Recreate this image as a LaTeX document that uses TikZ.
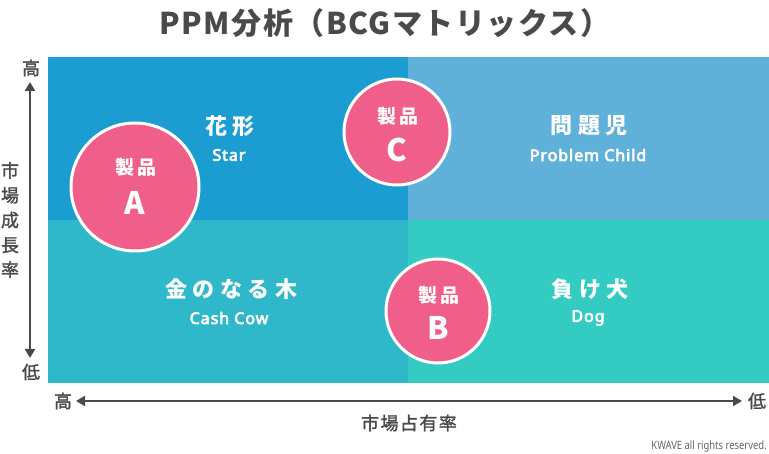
\documentclass[tikz,border=0pt]{standalone}
\usepackage{fontspec}
\setmainfont{Noto Sans CJK JP}
\newfontfamily\latf{Noto Sans}[FakeBold=4,LetterSpace=6]
\newfontfamily\axf{Noto Sans CJK JP}[FakeBold=1.5]
\newfontfamily\footf{Noto Sans}[FakeStretch=0.82]
\usetikzlibrary{arrows.meta}
\definecolor{qtl}{HTML}{1B9DD2}
\definecolor{qtr}{HTML}{5FB1D9}
\definecolor{qbl}{HTML}{2FB8C9}
\definecolor{qbr}{HTML}{34CBC3}
\definecolor{pinkc}{HTML}{EF5F8A}
\definecolor{darkg}{HTML}{4A4A4A}
\tikzset{
  quad/.style={inner sep=0pt, outer sep=0pt, draw=none, anchor=north west},
  qtitle/.style={text=white, font=\fontsize{22}{24}\selectfont\bfseries\addfontfeature{LetterSpace=25}, inner sep=0pt},
  qsub/.style={text=white, font=\fontsize{16}{18}\latf, inner sep=0pt},
  prod/.style={circle, fill=pinkc, draw=white, line width=3pt, inner sep=0pt},
  prodlbl/.style={text=white, font=\fontsize{19}{20}\selectfont\bfseries\addfontfeature{LetterSpace=18}, inner sep=0pt},
  prodletter/.style={text=white, font=\fontsize{31}{32}\selectfont\bfseries, inner sep=0pt},
  axlbl/.style={text=darkg, font=\fontsize{18}{20}\axf\addfontfeature{LetterSpace=8}, inner sep=0pt},
  axarrow/.style={draw=darkg, line width=2.4pt, {Triangle[width=10pt,length=9pt]}-{Triangle[width=10pt,length=9pt]}},
}
\begin{document}
\begin{tikzpicture}[x=1pt,y=-1pt]
\useasboundingbox (0,0) rectangle (769,454);
\fill[white] (0,0) rectangle (769,454);
% quadrants
\node[quad, fill=qtl, minimum width=360pt, minimum height=163pt] (qtl) at (48,57) {};
\node[quad, fill=qtr, minimum width=361pt, minimum height=163pt] (qtr) at (408,57) {};
\node[quad, fill=qbl, minimum width=360pt, minimum height=163pt] (qbl) at (48,220) {};
\node[quad, fill=qbr, minimum width=361pt, minimum height=163pt] (qbr) at (408,220) {};
% title
\node[text=darkg, font=\fontsize{30}{32}\selectfont\bfseries\addfontfeature{LetterSpace=5}, inner sep=0pt] (title) at (385,23) {PPM分析（BCGマトリックス）};
% quadrant labels
\node[qtitle] (t1) at (230,126) {花形};
\node[qsub] (s1) at (229,155) {Star};
\node[qtitle] (t2) at (589,126) {問題児};
\node[qsub] (s2) at (588,155) {Problem Child};
\node[qtitle] (t3) at (231,289) {金のなる木};
\node[qsub] (s3) at (229,318) {Cash Cow};
\node[qtitle] (t4) at (590,289) {負け犬};
\node[qsub] (s4) at (588,318) {Dog};
% products
\node[prod, minimum size=128pt] (pa) at (135,187) {};
\node[prodlbl] (pal) at (136,167) {製品};
\node[prodletter] (pat) at (135,203) {A};
\node[prod, minimum size=106pt] (pc) at (397,132) {};
\node[prodlbl] (pcl) at (398,116) {製品};
\node[prodletter] (pct) at (397,150) {C};
\node[prod, minimum size=104pt] (pb) at (438,311) {};
\node[prodlbl] (pbl) at (439,295) {製品};
\node[prodletter] (pbt) at (438,328) {B};
% vertical axis
\node[axlbl] (vhi) at (31,68) {高};
\node[axlbl] (vlo) at (31,372) {低};
\coordinate (vtop) at (30,82);
\coordinate (vbot) at (30,358);
\draw[axarrow] (vtop) -- (vbot);
\node[text=darkg, inner sep=0pt, align=center, font=\fontsize{18}{24.8}\axf] (vname) at (10,220) {市\\場\\成\\長\\率};
% horizontal axis
\node[axlbl] (hhi) at (63,401) {高};
\node[axlbl] (hlo) at (757,401) {低};
\coordinate (hleft) at (76,401);
\coordinate (hright) at (742,401);
\draw[axarrow] (hleft) -- (hright);
\node[axlbl] (hname) at (409,423) {市場占有率};
% footer
\node[text=darkg!85, font=\fontsize{11.5}{12}\footf, inner sep=0pt, anchor=east] (foot) at (767,447) {KWAVE all rights reserved.};
\end{tikzpicture}
\end{document}
